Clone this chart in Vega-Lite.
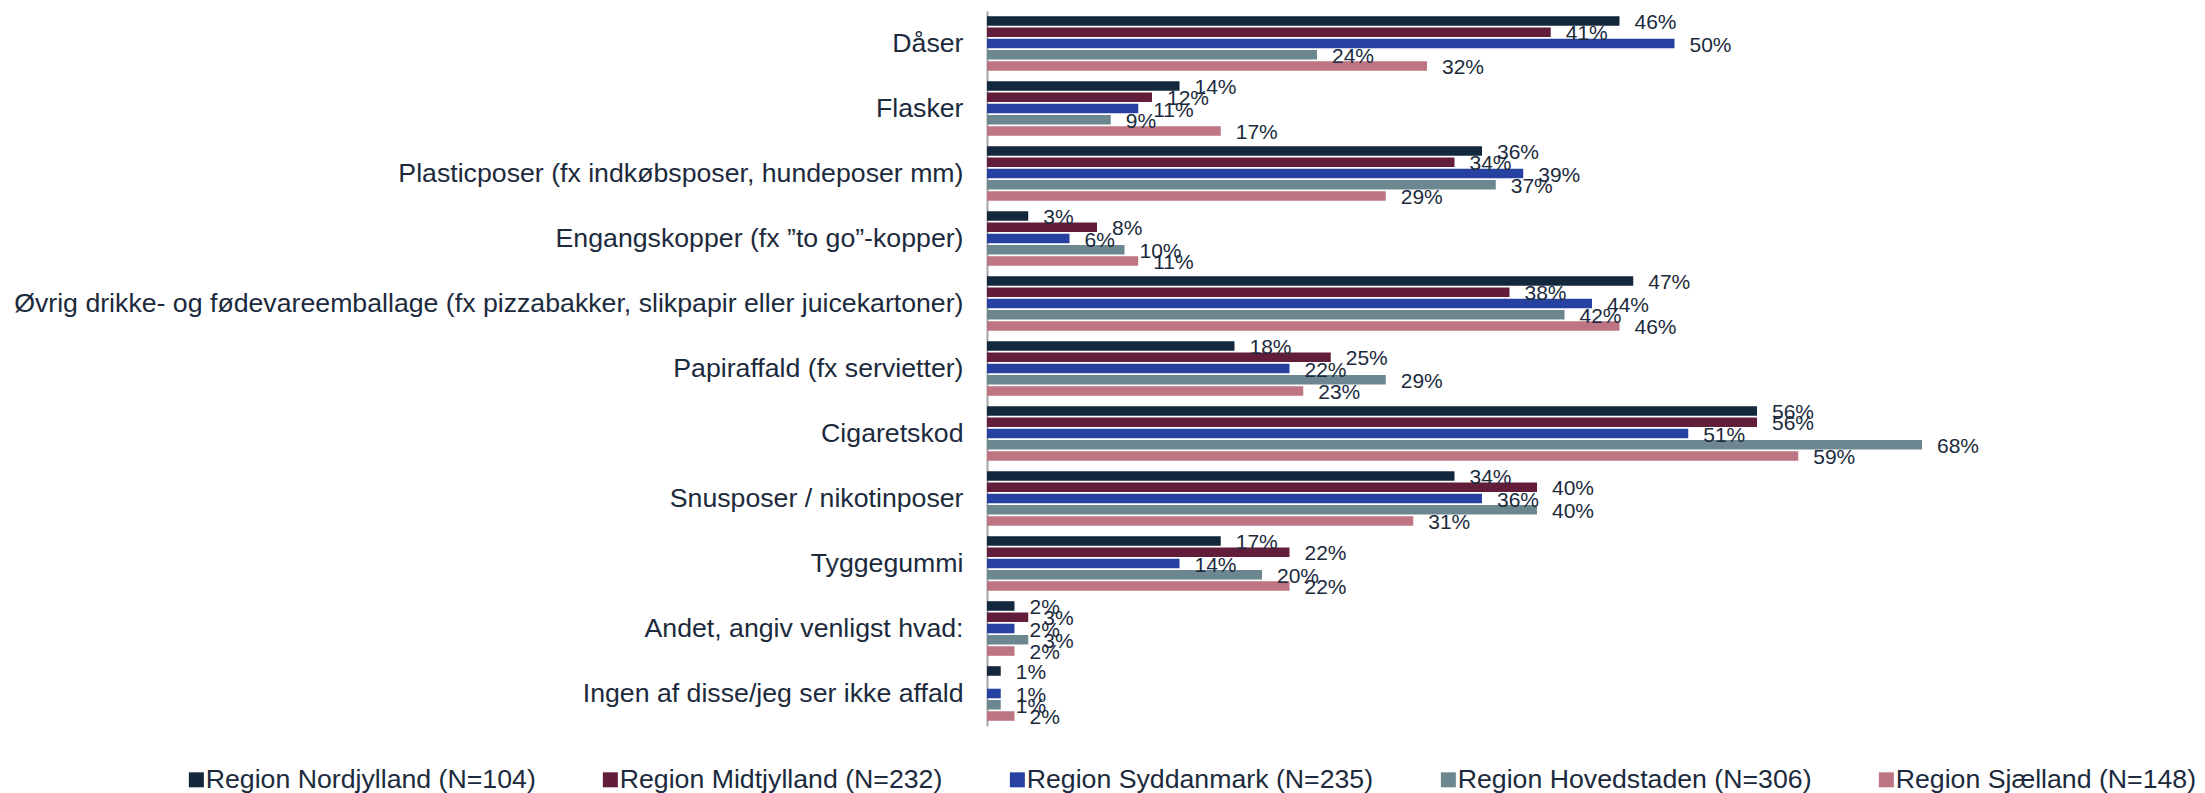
{
  "$schema": "https://vega.github.io/schema/vega-lite/v6.json",
  "width": 1100,
  "height": 715,
  "autosize": {"type": "none"},
  "padding": {"left": 987, "top": 11, "right": 118, "bottom": 67},
  "background": "white",
  "config": {"view": {"stroke": null}, "font": "Liberation Sans"},
  "data": {
    "values": [
      {"item": "Dåser", "region": "Region Nordjylland (N=104)", "value": 0.46},
      {"item": "Dåser", "region": "Region Midtjylland (N=232)", "value": 0.41},
      {"item": "Dåser", "region": "Region Syddanmark (N=235)", "value": 0.50},
      {"item": "Dåser", "region": "Region Hovedstaden (N=306)", "value": 0.24},
      {"item": "Dåser", "region": "Region Sjælland (N=148)", "value": 0.32},
      {"item": "Flasker", "region": "Region Nordjylland (N=104)", "value": 0.14},
      {"item": "Flasker", "region": "Region Midtjylland (N=232)", "value": 0.12},
      {"item": "Flasker", "region": "Region Syddanmark (N=235)", "value": 0.11},
      {"item": "Flasker", "region": "Region Hovedstaden (N=306)", "value": 0.09},
      {"item": "Flasker", "region": "Region Sjælland (N=148)", "value": 0.17},
      {"item": "Plasticposer (fx indkøbsposer, hundeposer mm)", "region": "Region Nordjylland (N=104)", "value": 0.36},
      {"item": "Plasticposer (fx indkøbsposer, hundeposer mm)", "region": "Region Midtjylland (N=232)", "value": 0.34},
      {"item": "Plasticposer (fx indkøbsposer, hundeposer mm)", "region": "Region Syddanmark (N=235)", "value": 0.39},
      {"item": "Plasticposer (fx indkøbsposer, hundeposer mm)", "region": "Region Hovedstaden (N=306)", "value": 0.37},
      {"item": "Plasticposer (fx indkøbsposer, hundeposer mm)", "region": "Region Sjælland (N=148)", "value": 0.29},
      {"item": "Engangskopper (fx ”to go”-kopper)", "region": "Region Nordjylland (N=104)", "value": 0.03},
      {"item": "Engangskopper (fx ”to go”-kopper)", "region": "Region Midtjylland (N=232)", "value": 0.08},
      {"item": "Engangskopper (fx ”to go”-kopper)", "region": "Region Syddanmark (N=235)", "value": 0.06},
      {"item": "Engangskopper (fx ”to go”-kopper)", "region": "Region Hovedstaden (N=306)", "value": 0.10},
      {"item": "Engangskopper (fx ”to go”-kopper)", "region": "Region Sjælland (N=148)", "value": 0.11},
      {"item": "Øvrig drikke- og fødevareemballage (fx pizzabakker, slikpapir eller juicekartoner)", "region": "Region Nordjylland (N=104)", "value": 0.47},
      {"item": "Øvrig drikke- og fødevareemballage (fx pizzabakker, slikpapir eller juicekartoner)", "region": "Region Midtjylland (N=232)", "value": 0.38},
      {"item": "Øvrig drikke- og fødevareemballage (fx pizzabakker, slikpapir eller juicekartoner)", "region": "Region Syddanmark (N=235)", "value": 0.44},
      {"item": "Øvrig drikke- og fødevareemballage (fx pizzabakker, slikpapir eller juicekartoner)", "region": "Region Hovedstaden (N=306)", "value": 0.42},
      {"item": "Øvrig drikke- og fødevareemballage (fx pizzabakker, slikpapir eller juicekartoner)", "region": "Region Sjælland (N=148)", "value": 0.46},
      {"item": "Papiraffald (fx servietter)", "region": "Region Nordjylland (N=104)", "value": 0.18},
      {"item": "Papiraffald (fx servietter)", "region": "Region Midtjylland (N=232)", "value": 0.25},
      {"item": "Papiraffald (fx servietter)", "region": "Region Syddanmark (N=235)", "value": 0.22},
      {"item": "Papiraffald (fx servietter)", "region": "Region Hovedstaden (N=306)", "value": 0.29},
      {"item": "Papiraffald (fx servietter)", "region": "Region Sjælland (N=148)", "value": 0.23},
      {"item": "Cigaretskod", "region": "Region Nordjylland (N=104)", "value": 0.56},
      {"item": "Cigaretskod", "region": "Region Midtjylland (N=232)", "value": 0.56},
      {"item": "Cigaretskod", "region": "Region Syddanmark (N=235)", "value": 0.51},
      {"item": "Cigaretskod", "region": "Region Hovedstaden (N=306)", "value": 0.68},
      {"item": "Cigaretskod", "region": "Region Sjælland (N=148)", "value": 0.59},
      {"item": "Snusposer / nikotinposer", "region": "Region Nordjylland (N=104)", "value": 0.34},
      {"item": "Snusposer / nikotinposer", "region": "Region Midtjylland (N=232)", "value": 0.40},
      {"item": "Snusposer / nikotinposer", "region": "Region Syddanmark (N=235)", "value": 0.36},
      {"item": "Snusposer / nikotinposer", "region": "Region Hovedstaden (N=306)", "value": 0.40},
      {"item": "Snusposer / nikotinposer", "region": "Region Sjælland (N=148)", "value": 0.31},
      {"item": "Tyggegummi", "region": "Region Nordjylland (N=104)", "value": 0.17},
      {"item": "Tyggegummi", "region": "Region Midtjylland (N=232)", "value": 0.22},
      {"item": "Tyggegummi", "region": "Region Syddanmark (N=235)", "value": 0.14},
      {"item": "Tyggegummi", "region": "Region Hovedstaden (N=306)", "value": 0.20},
      {"item": "Tyggegummi", "region": "Region Sjælland (N=148)", "value": 0.22},
      {"item": "Andet, angiv venligst hvad:", "region": "Region Nordjylland (N=104)", "value": 0.02},
      {"item": "Andet, angiv venligst hvad:", "region": "Region Midtjylland (N=232)", "value": 0.03},
      {"item": "Andet, angiv venligst hvad:", "region": "Region Syddanmark (N=235)", "value": 0.02},
      {"item": "Andet, angiv venligst hvad:", "region": "Region Hovedstaden (N=306)", "value": 0.03},
      {"item": "Andet, angiv venligst hvad:", "region": "Region Sjælland (N=148)", "value": 0.02},
      {"item": "Ingen af disse/jeg ser ikke affald", "region": "Region Nordjylland (N=104)", "value": 0.01},
      {"item": "Ingen af disse/jeg ser ikke affald", "region": "Region Syddanmark (N=235)", "value": 0.01},
      {"item": "Ingen af disse/jeg ser ikke affald", "region": "Region Hovedstaden (N=306)", "value": 0.01},
      {"item": "Ingen af disse/jeg ser ikke affald", "region": "Region Sjælland (N=148)", "value": 0.02}
    ]
  },
  "encoding": {
    "y": {
      "field": "item",
      "type": "nominal",
      "sort": [
        "Dåser",
        "Flasker",
        "Plasticposer (fx indkøbsposer, hundeposer mm)",
        "Engangskopper (fx ”to go”-kopper)",
        "Øvrig drikke- og fødevareemballage (fx pizzabakker, slikpapir eller juicekartoner)",
        "Papiraffald (fx servietter)",
        "Cigaretskod",
        "Snusposer / nikotinposer",
        "Tyggegummi",
        "Andet, angiv venligst hvad:",
        "Ingen af disse/jeg ser ikke affald"
      ],
      "scale": {"paddingInner": 0.16, "paddingOuter": 0.08},
      "axis": {
        "title": null,
        "ticks": false,
        "grid": false,
        "domainColor": "#A6A6A6",
        "domainWidth": 2,
        "labelPadding": 24,
        "labelFontSize": 26.7,
        "labelFont": "Liberation Sans",
        "labelColor": "#1B2A3C",
        "labelLimit": 1200
      }
    },
    "yOffset": {
      "field": "region",
      "type": "nominal",
      "sort": [
        "Region Nordjylland (N=104)",
        "Region Midtjylland (N=232)",
        "Region Syddanmark (N=235)",
        "Region Hovedstaden (N=306)",
        "Region Sjælland (N=148)"
      ],
      "scale": {"paddingInner": 0.15, "paddingOuter": 0}
    },
    "x": {
      "field": "value",
      "type": "quantitative",
      "scale": {"domain": [0, 0.8], "nice": false},
      "axis": null
    }
  },
  "layer": [
    {
      "mark": {"type": "bar"},
      "encoding": {
        "color": {
          "field": "region",
          "type": "nominal",
          "scale": {
            "domain": [
              "Region Nordjylland (N=104)",
              "Region Midtjylland (N=232)",
              "Region Syddanmark (N=235)",
              "Region Hovedstaden (N=306)",
              "Region Sjælland (N=148)"
            ],
            "range": ["#13283D", "#621D3B", "#2641A0", "#6D8790", "#BD7483"]
          },
          "legend": {
            "orient": "none",
            "legendX": -804,
            "legendY": 755,
            "direction": "horizontal",
            "columns": 5,
            "title": null,
            "symbolType": "square",
            "symbolSize": 225,
            "symbolStrokeWidth": 0,
            "labelFontSize": 26.7,
            "labelFont": "Liberation Sans",
            "labelColor": "#1B2A3C",
            "labelOffset": -4,
            "labelLimit": 600,
            "columnPadding": 61,
            "padding": 0
          }
        }
      }
    },
    {
      "mark": {
        "type": "text",
        "align": "left",
        "baseline": "middle",
        "dx": 15,
        "dy": 2,
        "fontSize": 21,
        "font": "Liberation Sans",
        "color": "#1B2A3C"
      },
      "encoding": {
        "text": {"field": "value", "type": "quantitative", "format": ".0%"}
      }
    }
  ]
}
